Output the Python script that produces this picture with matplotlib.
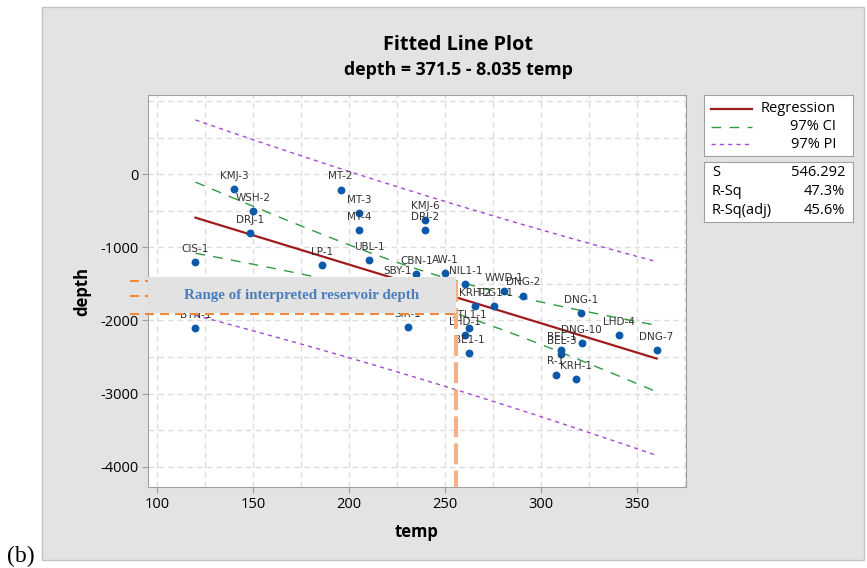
import numpy as np
import matplotlib
matplotlib.use('Agg')
import matplotlib.pyplot as plt
from matplotlib.patches import Rectangle

plt.rcParams['axes.unicode_minus'] = False

# Data
wells = ['KMJ-3', 'WSH-2', 'DRJ-1', 'CIS-1', 'LP-1', 'BTN-1', 'MT-2', 'MT-3', 'MT-4',
         'KMJ-6', 'DRJ-2', 'UBL-1', 'CBN-1', 'SBY-1', 'AW-1', 'NIL1-1', 'WWD-1', 'DNG-2',
         'KRH-2', 'TLG1-1', 'DNG-1', 'LHD-4', 'DNG-7', 'DNG-10', 'BEL-1', 'BEL-3',
         'R-1', 'KRH-1', 'STL1-1', 'LHD-1', 'BE1-1', 'SIR-1']
temp = np.array([140, 150, 148.5, 120, 186, 120, 195.5, 205, 205,
                 239.5, 239.5, 210.5, 235, 225, 250, 260.5, 280.5, 290.5,
                 265.5, 275.5, 320.5, 340.5, 360, 321, 310.5, 310.5,
                 307.5, 318, 262.5, 260.5, 262.5, 230.5])
depth = np.array([-200, -500, -800, -1200, -1240, -2100, -210, -530, -760,
                  -620, -760, -1170, -1365, -1500, -1350, -1500, -1600, -1660,
                  -1800, -1800, -1900, -2200, -2400, -2310, -2410, -2465,
                  -2740, -2800, -2100, -2200, -2450, -2090])

b0, b1 = 371.5, -8.035        # fitted equation from the title
s_val = 546.292               # S from stats box
t_crit = 2.28                 # t(0.985, n-2)
stats_names = ['S', 'R-Sq', 'R-Sq(adj)']
stats_vals = ['546.292', '47.3%', '45.6%']

range_top, range_mid, range_bot = -1462, -1660, -1910
temp_cut = 255.5

W, H = 867, 568
fig = plt.figure(figsize=(W / 100, H / 100), dpi=100)
fig.patch.set_facecolor('white')

def fx(x):
    return x / W

def fy(y):
    return 1 - y / H

# gray panel
fig.patches.append(Rectangle((fx(42), fy(560)), fx(864) - fx(42), fy(7) - fy(560),
                             transform=fig.transFigure, facecolor='#E3E3E3',
                             edgecolor='#C4C4C4', lw=1, zorder=-10))

ax = fig.add_axes([fx(148), fy(487), fx(686) - fx(148), fy(95) - fy(487)])
ax.set_facecolor('white')
ax.set_xlim(95.3, 375.3)
ax.set_ylim(-4279, 1086)

ax.set_xticks([100, 150, 200, 250, 300, 350])
ax.set_xticks(np.arange(100, 376, 25), minor=True)
ax.set_yticks([0, -1000, -2000, -3000, -4000])
ax.set_yticks(np.arange(-4000, 1001, 500), minor=True)
ax.grid(True, which='both', color='#DCDCDC', linestyle=(0, (4, 3)), lw=1)
ax.set_axisbelow(True)
ax.tick_params(which='major', direction='out', length=4, color='#A0A0A0',
               labelsize=10.5, pad=3)
ax.tick_params(which='minor', length=0)
for lab in ax.get_xticklabels() + ax.get_yticklabels():
    lab.set_family('Open Sans')
for sp in ax.spines.values():
    sp.set_color('#A0A0A0')

# regression and bands
xs = np.linspace(temp.min(), temp.max(), 200)
fit = b0 + b1 * xs
n = len(temp)
xbar = temp.mean()
sxx = np.sum((temp - xbar) ** 2)
ci = t_crit * s_val * np.sqrt(1 / n + (xs - xbar) ** 2 / sxx)
pi = t_crit * s_val * np.sqrt(1 + 1 / n + (xs - xbar) ** 2 / sxx)

red = '#A01C1C'
green = '#2E9A44'
purple = '#A84AD8'
ax.plot(xs, fit, color=red, lw=1.6, zorder=3)
ax.plot(xs, fit + ci, color=green, lw=1, dashes=(7, 6), zorder=3)
ax.plot(xs, fit - ci, color=green, lw=1, dashes=(7, 6), zorder=3)
ax.plot(xs, fit + pi, color=purple, lw=1, dashes=(3, 3), zorder=3)
ax.plot(xs, fit - pi, color=purple, lw=1, dashes=(3, 3), zorder=3)

ax.scatter(temp, depth, s=32, color='#0B5AAA', zorder=4, linewidths=0)
for name, x, y in zip(wells, temp, depth):
    ax.annotate(name, (x, y), xytext=(0, 9.5), textcoords='offset points',
                ha='center', va='center', fontsize=7.5, color='#333333', zorder=5)

# interpreted reservoir range
for d in [range_top, range_mid, range_bot]:
    ax.plot([86, temp_cut], [d, d], color='#F0883A', lw=1.5, dashes=(4.3, 2.9),
            clip_on=False, zorder=6)
ax.plot([temp_cut, temp_cut], [-1460, -4279], color='#F4B183', lw=3,
        dashes=(5, 1.5), zorder=6)
ax.add_patch(Rectangle((95.3, -1900), temp_cut - 95.3, 1900 - 1407,
                       facecolor='#E2E2E2', edgecolor='none', zorder=7, clip_on=False))
ax.text((95.3 + temp_cut) / 2, -1660, 'Range of interpreted reservoir depth',
        ha='center', va='center', fontsize=10.8, fontweight='bold',
        family='Liberation Serif', color='#4A7EBB', zorder=8)

ax.set_xlabel('temp', fontsize=12, fontweight='bold', family='Open Sans', labelpad=8)
ax.set_ylabel('depth', fontsize=12, fontweight='bold', family='Open Sans', labelpad=6)

fig.text(fx(458), fy(45), 'Fitted Line Plot', ha='center', va='center',
         fontsize=14.3, fontweight='bold', family='Open Sans')
fig.text(fx(458), fy(70), 'depth = 371.5 - 8.035 temp', ha='center', va='center',
         fontsize=12.8, fontweight='bold', family='Open Sans')
fig.text(fx(7), fy(556), '(b)', ha='left', va='center', fontsize=17,
         family='Liberation Serif')

# legend box
lg = fig.add_axes([fx(704), fy(156), fx(853) - fx(704), fy(95) - fy(156)])
lg.set_xlim(0, 149)
lg.set_ylim(61, 0)
lg.set_xticks([])
lg.set_yticks([])
lg.set_facecolor('white')
for sp in lg.spines.values():
    sp.set_color('#A0A0A0')
leg_rows = [('Regression', red, None, 14),
            ('97% CI', green, (7, 6), 32),
            ('97% PI', purple, (3, 3), 49)]
for label, col, dsh, yy in leg_rows:
    if dsh is None:
        lg.plot([7, 48], [yy, yy], color=col, lw=1.6)
    else:
        lg.plot([7, 48], [yy, yy], color=col, lw=1, dashes=dsh)
    lg.text(132, yy, label, ha='right', va='center', fontsize=10.5, family='Open Sans')

st = fig.add_axes([fx(704), fy(222), fx(853) - fx(704), fy(162) - fy(222)])
st.set_xlim(0, 149)
st.set_ylim(60, 0)
st.set_xticks([])
st.set_yticks([])
st.set_facecolor('white')
for sp in st.spines.values():
    sp.set_color('#A0A0A0')
for i, (nm, v) in enumerate(zip(stats_names, stats_vals)):
    yy = 11 + i * 18.5
    st.text(8, yy, nm, ha='left', va='center', fontsize=10.5, family='Open Sans')
    st.text(141, yy, v, ha='right', va='center', fontsize=10.5, family='Open Sans')

fig.savefig('out.png', dpi=100)
